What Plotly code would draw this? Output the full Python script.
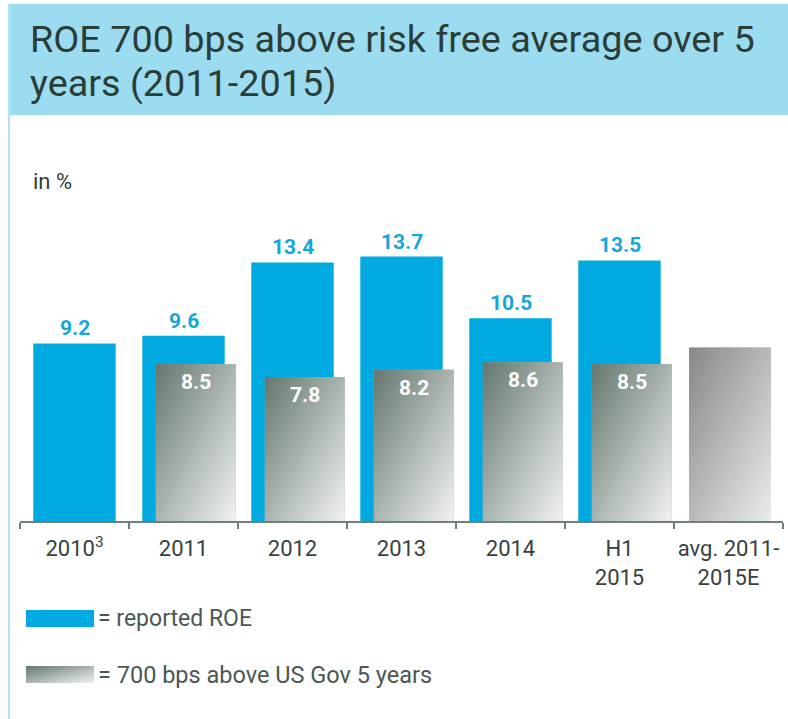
import base64, struct, zlib
import plotly.graph_objects as go

# ---------------- data ----------------
categories = ["2010<sup>3</sup>", "2011", "2012", "2013", "2014", "H1<br>2015", "avg. 2011-<br>2015E"]
roe_reported = [9.2, 9.6, 13.4, 13.7, 10.5, 13.5]          # 2010 .. H1 2015
roe_labels = ["9.2", "9.6", "13.4", "13.7", "10.5", "13.5"]
risk_free_700 = [8.5, 7.8, 8.2, 8.6, 8.5, 9.4]               # 2011 .. avg (avg unlabeled)
risk_free_labels = ["8.5", "7.8", "8.2", "8.6", "8.5", ""]

title_line1 = "ROE 700 bps above risk free average over 5"
title_line2 = "years (2011-2015)"
unit_label = "in %"
legend_roe = "= reported ROE"
legend_rf = "= 700 bps above US Gov 5 years"

# ---------------- geometry / style ----------------
W, H = 788, 719
FONT = "Roboto, 'Liberation Sans', Arial, sans-serif"
BLUE = "#00a9df"
TXT = "#36423e"

def px_x(p):
    return p / W

def px_y(p):
    return 1 - p / H

x_left, x_right = 20, 783
base_px, top_px = 521, 140
plot_h = base_px - top_px
blue_scale = 19.3      # px per unit (reported ROE)
gray_scale = 18.45     # px per unit (700 bps series)

blue_x = list(range(len(roe_reported)))
gray_x = list(range(1, 1 + len(risk_free_700)))
blue_w, blue_off = 0.756, -0.378
gray_w = [0.733] * 5 + [0.751]
gray_off = [-0.254] * 5 + [-0.361]


def gradient_png(c0, c1, n=64):
    rows = bytearray()
    for y in range(n):
        rows.append(0)
        for x in range(n):
            t = (x + y) / (2 * (n - 1))
            for k in range(3):
                rows.append(int(round(c0[k] + (c1[k] - c0[k]) * t)))
    def chunk(typ, data):
        return (struct.pack(">I", len(data)) + typ + data
                + struct.pack(">I", zlib.crc32(typ + data) & 0xFFFFFFFF))
    ihdr = struct.pack(">IIBBBBB", n, n, 8, 2, 0, 0, 0)
    png = (b"\x89PNG\r\n\x1a\n" + chunk(b"IHDR", ihdr)
           + chunk(b"IDAT", zlib.compress(bytes(rows))) + chunk(b"IEND", b""))
    return "data:image/png;base64," + base64.b64encode(png).decode()

grad_main = gradient_png((0x66, 0x78, 0x70), (0xf0, 0xf2, 0xf1))
grad_avg = gradient_png((0x88, 0x89, 0x89), (0xe8, 0xec, 0xea))

fig = go.Figure()
fig.add_trace(go.Bar(
    x=blue_x, y=roe_reported, width=blue_w, offset=blue_off,
    marker=dict(color=BLUE, line=dict(width=0)), name="reported ROE",
    yaxis="y", hoverinfo="skip"))
fig.add_trace(go.Bar(
    x=gray_x, y=risk_free_700, width=gray_w, offset=gray_off,
    marker=dict(color="#aab5b2", line=dict(width=0)), name="700 bps above US Gov 5 years",
    yaxis="y2", hoverinfo="skip"))

images = []
annotations = []
for i, (xv, v) in enumerate(zip(gray_x, risk_free_700)):
    images.append(dict(
        source=grad_avg if i == len(risk_free_700) - 1 else grad_main,
        xref="x", yref="y2", x=xv + gray_off[i], y=v, sizex=gray_w[i], sizey=v,
        xanchor="left", yanchor="top", sizing="stretch", layer="above"))
    if risk_free_labels[i]:
        annotations.append(dict(
            xref="x", yref="y2", x=xv + gray_off[i] + gray_w[i] / 2, y=v,
            text=f"<b>{risk_free_labels[i]}</b>", showarrow=False,
            xanchor="center", yanchor="top", yshift=-4,
            font=dict(family=FONT, size=21, color="white")))
for xv, v, lab in zip(blue_x, roe_reported, roe_labels):
    annotations.append(dict(
        xref="x", yref="y", x=xv, y=v, text=f"<b>{lab}</b>", showarrow=False,
        xanchor="center", yanchor="bottom", yshift=1,
        font=dict(family=FONT, size=21, color="#14a6dc")))

# title and texts
annotations += [
    dict(xref="paper", yref="paper", x=px_x(28), y=px_y(39), text=title_line1,
         showarrow=False, xanchor="left", yanchor="middle",
         font=dict(family=FONT, size=37.8, color="#2b3d37")),
    dict(xref="paper", yref="paper", x=px_x(28), y=px_y(83), text=title_line2,
         showarrow=False, xanchor="left", yanchor="middle",
         font=dict(family=FONT, size=37.8, color="#2b3d37")),
    dict(xref="paper", yref="paper", x=px_x(31), y=px_y(182), text=unit_label,
         showarrow=False, xanchor="left", yanchor="middle",
         font=dict(family=FONT, size=22, color="#333b38")),
    dict(xref="paper", yref="paper", x=px_x(96), y=px_y(618), text=legend_roe,
         showarrow=False, xanchor="left", yanchor="middle",
         font=dict(family=FONT, size=23, color="#4b5753")),
    dict(xref="paper", yref="paper", x=px_x(96), y=px_y(675), text=legend_rf,
         showarrow=False, xanchor="left", yanchor="middle",
         font=dict(family=FONT, size=23.5, color="#4b5753")),
]

images.append(dict(source=grad_main, xref="paper", yref="paper",
                   x=px_x(26), y=px_y(666), sizex=px_x(94) - px_x(26),
                   sizey=17 / H, xanchor="left", yanchor="top",
                   sizing="stretch", layer="above"))

shapes = [
    dict(type="rect", xref="paper", yref="paper", x0=px_x(8), x1=1,
         y0=px_y(115), y1=px_y(4), fillcolor="#9bdcf1", line=dict(width=0), layer="below"),
    dict(type="line", xref="paper", yref="paper", x0=px_x(9), x1=px_x(9),
         y0=px_y(4), y1=0, line=dict(color="#b3e2f4", width=2)),
    dict(type="rect", xref="paper", yref="paper", x0=px_x(26), x1=px_x(94),
         y0=px_y(627), y1=px_y(610), fillcolor=BLUE, line=dict(width=0)),
]

ydom = [px_y(base_px), px_y(top_px)]
fig.update_layout(
    width=W, height=H, margin=dict(l=0, r=0, t=0, b=0),
    paper_bgcolor="white", plot_bgcolor="rgba(0,0,0,0)",
    barmode="overlay", showlegend=False,
    xaxis=dict(domain=[px_x(x_left), px_x(x_right)], range=[-0.5, 6.5],
               tickmode="array", tickvals=list(range(len(categories))), ticktext=categories,
               ticks="", showgrid=False, zeroline=False, automargin=False,
               showline=True, linecolor="#6e827c", linewidth=2,
               ticklabelstandoff=7,
               tickfont=dict(family=FONT, size=22, color=TXT),
               minor=dict(tickmode="array", tickvals=[i - 0.5 for i in range(len(categories) + 1)],
                          ticks="outside", ticklen=6, tickwidth=2, tickcolor="#6e827c",
                          showgrid=False)),
    yaxis=dict(domain=ydom, range=[0, plot_h / blue_scale], visible=False, fixedrange=True),
    yaxis2=dict(domain=ydom, range=[0, plot_h / gray_scale], visible=False,
                overlaying="y", anchor="x"),
    shapes=shapes, images=images, annotations=annotations,
)

fig.write_html("out.html")
